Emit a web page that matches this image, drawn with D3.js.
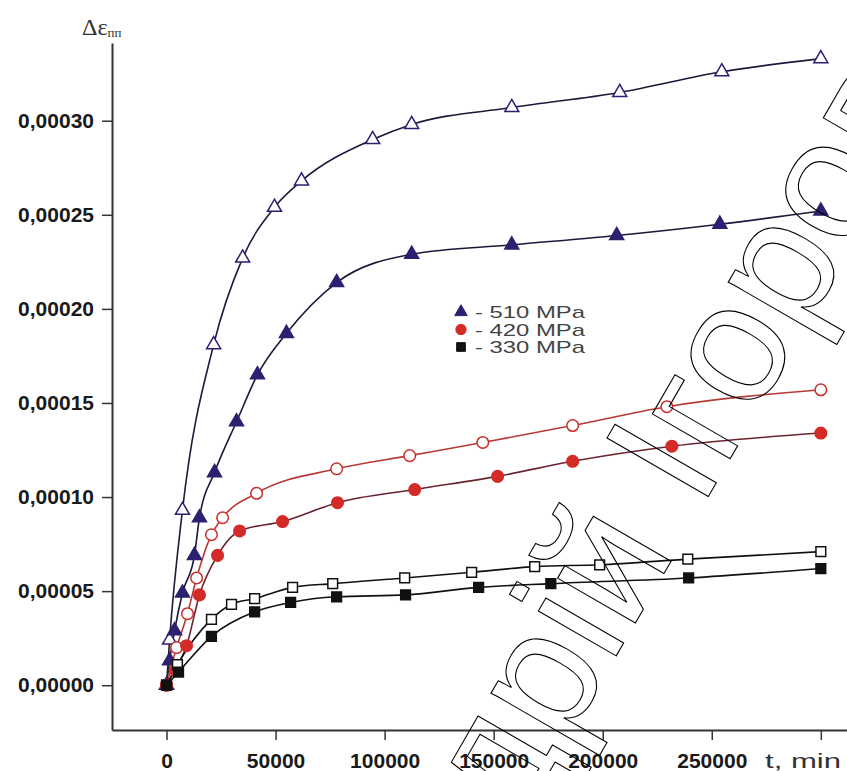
<!DOCTYPE html>
<html>
<head>
<meta charset="utf-8">
<script src="https://cdn.jsdelivr.net/npm/d3@7"></script>
<style>
	body { margin: 0; background: #fff; }
	svg text { font-family: "Liberation Sans", Arial, sans-serif; }
</style>
</head>
<body>
<svg id="chart" width="847" height="771"></svg>
<script>
/*
	Data (t in min, strain increment)
*/
var xTicks = [0, 50000, 100000, 150000, 200000, 250000];
var yTicks = [0, 0.00005, 0.00010, 0.00015, 0.00020, 0.00025, 0.00030];
var legendLabels = ["510 MPa", "420 MPa", "330 MPa"];

var t510open = [0, 1400, 7300, 21600, 34900, 49500, 61900, 94500, 112400, 158300, 207800, 254600, 300000];
var e510open = [0, 0.000024, 0.000093, 0.000181, 0.000227, 0.000254, 0.000268, 0.000290, 0.000298, 0.000307, 0.000315, 0.000326, 0.000333];

var t510 = [0, 1400, 3700, 7300, 12800, 15100, 22000, 32100, 41700, 55000, 78000, 112400, 158300, 206400, 253700, 300000];
var e510 = [0, 0.000013, 0.000029, 0.000049, 0.000069, 0.000089, 0.000113, 0.000140, 0.000165, 0.000187, 0.000214, 0.000229, 0.000234, 0.000239, 0.000245, 0.000252];

var t420open = [0, 4600, 9600, 13800, 20600, 25700, 41300, 78000, 111500, 145000, 186200, 229400, 300000];
var e420open = [0, 0.000020, 0.000038, 0.000057, 0.000080, 0.000089, 0.000102, 0.000115, 0.000122, 0.000129, 0.000138, 0.000148, 0.000157];

var t420 = [0, 4000, 9200, 15100, 23400, 33500, 53200, 78400, 113800, 151800, 186200, 231700, 300000];
var e420 = [0, 0.000008, 0.000021, 0.000048, 0.000069, 0.000082, 0.000087, 0.000097, 0.000104, 0.000111, 0.000119, 0.000127, 0.000134];

var t330open = [0, 5000, 20600, 29800, 40400, 57800, 76200, 109200, 139900, 168800, 198600, 239000, 300000];
var e330open = [0, 0.000011, 0.000035, 0.000043, 0.000046, 0.000052, 0.000054, 0.000057, 0.000060, 0.000063, 0.000064, 0.000067, 0.000071];

var t330 = [0, 5500, 20600, 40400, 56900, 78000, 109600, 143100, 176200, 239400, 300000];
var e330 = [0, 0.000007, 0.000026, 0.000039, 0.000044, 0.000047, 0.000048, 0.000052, 0.000054, 0.000057, 0.000062];

var svg = d3.select("#chart");

var x = d3.scaleLinear().domain([-25000, 312000]).range([112, 847]);
var y = d3.scaleLinear().domain([-0.0000238, 0.0003413]).range([730, 43]);

var comma = d3.formatLocale({ decimal: ",", thousands: "", grouping: [3], currency: ["", ""] });

var series = [
	{ t: t510open, e: e510open, shape: d3.symbolTriangle, size: 85, color: "#2b2170", fill: "#fff", line: "#1c1a3a" },
	{ t: t510,     e: e510,     shape: d3.symbolTriangle, size: 85, color: "#2b2170", fill: "#2b2170", line: "#1c1a3a" },
	{ t: t420open, e: e420open, shape: d3.symbolCircle,   size: 105, color: "#c9302c", fill: "#fff", line: "#b83a36" },
	{ t: t420,     e: e420,     shape: d3.symbolCircle,   size: 105, color: "#d42a28", fill: "#d42a28", line: "#6a2430" },
	{ t: t330open, e: e330open, shape: d3.symbolSquare,   size: 95, color: "#111", fill: "#fff", line: "#111" },
	{ t: t330,     e: e330,     shape: d3.symbolSquare,   size: 95, color: "#111", fill: "#111", line: "#111" }
];

/*
	Axes
*/
function _drawAxes() {
	var minorX = d3.range(-25000, 300000, 50000);
	var minorY = d3.range(0.000025, 0.00034, 0.00005);

	var gx = svg.append("g").attr("transform", "translate(0,730)");
	gx.call(d3.axisBottom(x).tickValues(minorX).tickSize(5).tickSizeOuter(0).tickFormat(""));
	gx.call(d3.axisBottom(x).tickValues(xTicks.concat([300000])).tickSize(10).tickSizeOuter(0)
		.tickPadding(13)
		.tickFormat(function(d) { return d === 300000 ? "" : d3.format("d")(d); }));
	gx.select(".domain").attr("stroke", "#333").attr("stroke-width", 2);
	gx.selectAll(".tick line").attr("stroke", "#333").attr("stroke-width", 1.5);
	gx.selectAll(".tick text")
		.attr("fill", "#1a1a1a")
		.attr("font-size", 21)
		.attr("font-weight", "bold");

	gx.append("text")
		.attr("x", 765).attr("y", 38)
		.attr("fill", "#333")
		.attr("font-size", 21)
		.attr("textLength", 76)
		.attr("lengthAdjust", "spacingAndGlyphs")
		.attr("text-anchor", "start")
		.text("t, min");

	var gy = svg.append("g").attr("transform", "translate(112,0)");
	gy.call(d3.axisLeft(y).tickValues(minorY).tickSize(5).tickSizeOuter(0).tickFormat(""));
	gy.call(d3.axisLeft(y).tickValues(yTicks).tickSize(10).tickSizeOuter(0).tickPadding(8)
		.tickFormat(comma.format(".5f")));
	gy.select(".domain").attr("stroke", "#333").attr("stroke-width", 2);
	gy.selectAll(".tick line").attr("stroke", "#333").attr("stroke-width", 1.5);
	gy.selectAll(".tick text")
		.attr("fill", "#1a1a1a")
		.attr("font-size", 21)
		.attr("font-weight", "bold");

	var title = svg.append("text")
		.attr("x", 82).attr("y", 35)
		.attr("fill", "#333")
		.style("font-family", "'Liberation Serif', 'DejaVu Serif', serif")
		.attr("font-size", 24);
	title.append("tspan").text("Δε");
	title.append("tspan").attr("font-size", 13).attr("dy", 2).text("пп");
}

/*
	Curves and markers
*/
function _drawSeries() {
	var line = d3.line()
		.x(function(d) { return x(d[0]); })
		.y(function(d) { return y(d[1]); })
		.curve(d3.curveMonotoneX);

	series.forEach(function(s) {
		var pts = s.t.map(function(t, i) { return [t, s.e[i]]; });
		svg.append("path")
			.datum(pts)
			.attr("fill", "none")
			.attr("stroke", s.line)
			.attr("stroke-width", 1.6)
			.attr("d", line);
	});

	series.forEach(function(s) {
		var pts = s.t.map(function(t, i) { return [t, s.e[i]]; });
		svg.append("g").selectAll("path")
			.data(pts)
			.enter()
			.append("path")
			.attr("transform", function(d) { return "translate(" + x(d[0]) + "," + y(d[1]) + ")"; })
			.attr("d", d3.symbol().type(s.shape).size(s.size))
			.attr("fill", s.fill)
			.attr("stroke", s.color)
			.attr("stroke-width", 1.5);
	});
}

function _drawLegend() {
	var legendSeries = [series[1], series[3], series[5]];
	var g = svg.append("g").attr("transform", "translate(461,312)");
	legendSeries.forEach(function(s, i) {
		g.append("path")
			.attr("transform", "translate(0," + (i * 17.5) + ")")
			.attr("d", d3.symbol().type(s.shape).size(s.size * 0.8))
			.attr("fill", s.fill)
			.attr("stroke", s.color);
		g.append("text")
			.attr("x", 14).attr("y", i * 17.5 + 6)
			.attr("fill", "#444")
			.attr("font-size", 17)
			.attr("textLength", 110)
			.attr("lengthAdjust", "spacingAndGlyphs")
			.text("- " + legendLabels[i]);
	});
}

function _drawWatermark() {
	svg.append("text")
		.attr("transform", "translate(670,445) rotate(-60)")
		.attr("text-anchor", "middle")
		.attr("dominant-baseline", "central")
		.attr("font-size", 170)
		.attr("fill", "none")
		.attr("stroke", "#000")
		.attr("stroke-width", 1.1)
		.text("Андрій Ігорович");
}

_drawSeries();
_drawAxes();
_drawLegend();
_drawWatermark();
</script>
</body>
</html>
